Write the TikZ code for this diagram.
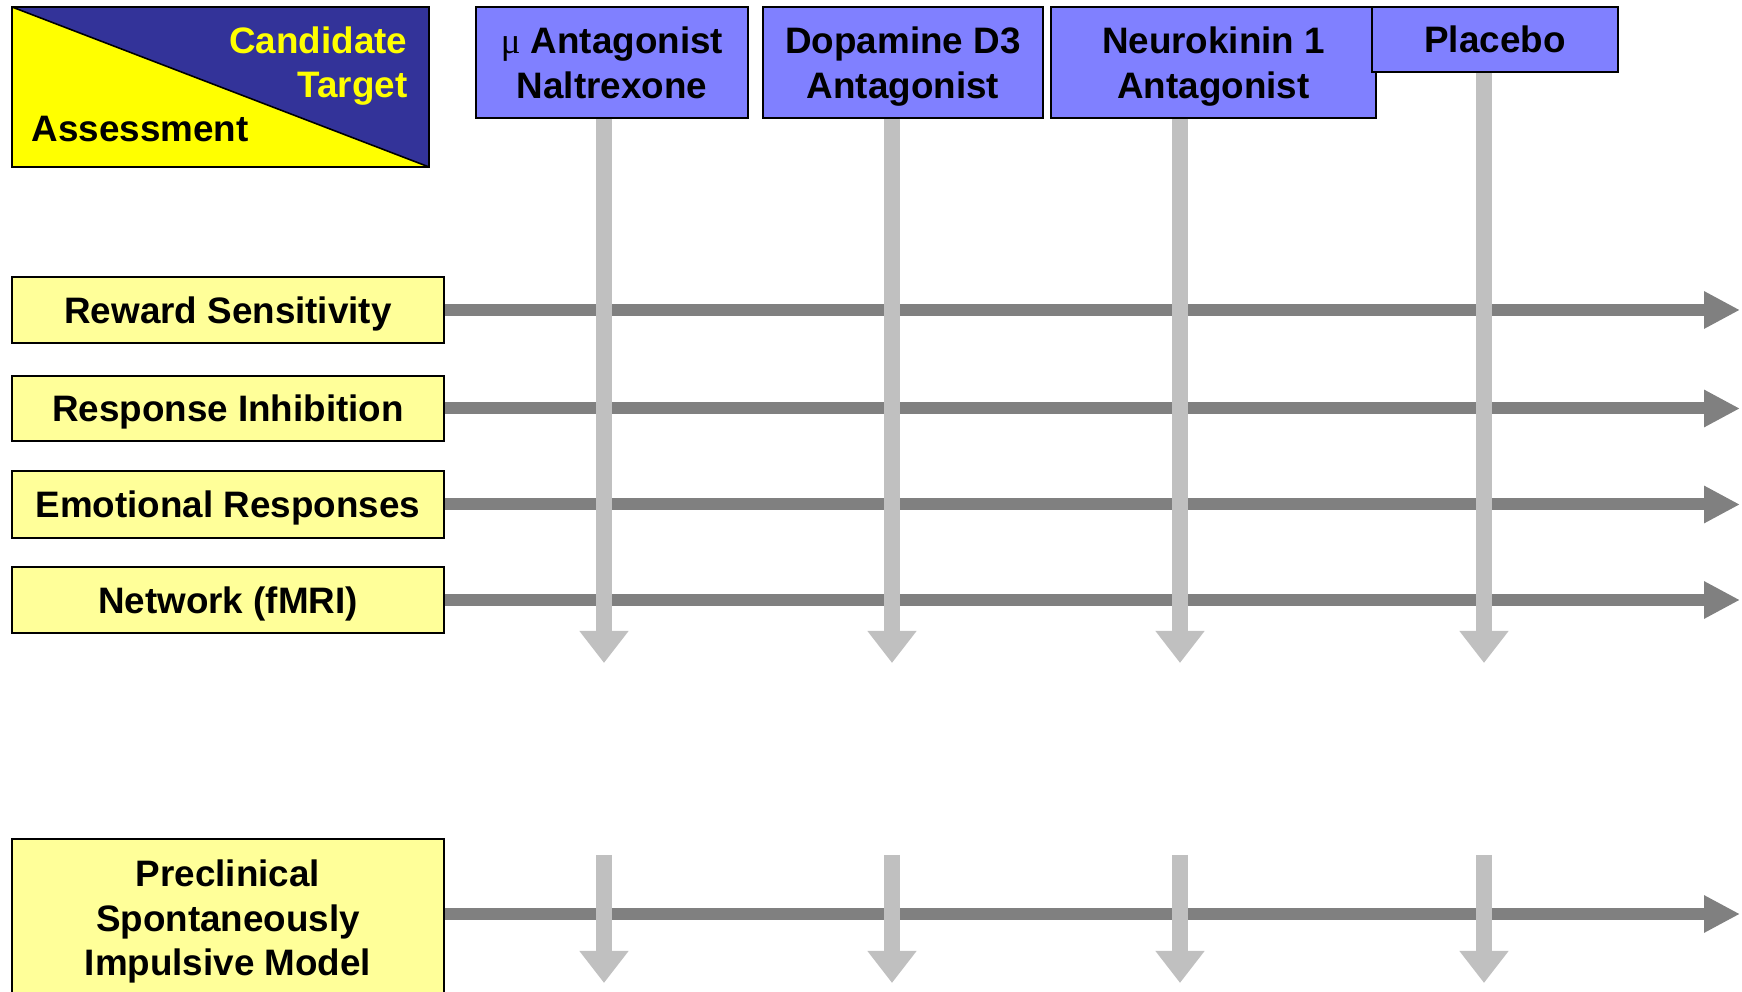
\documentclass[tikz,border=0pt]{standalone}
\usepackage{fontspec}
\setmainfont{Liberation Sans}
\newfontfamily\greekfont{Liberation Serif}
\usetikzlibrary{arrows.meta}
\definecolor{hdrblue}{HTML}{333399}
\definecolor{hdryellow}{HTML}{FFFF00}
\definecolor{drugblue}{HTML}{8080FF}
\definecolor{lblyellow}{HTML}{FFFF99}
\definecolor{bargray}{HTML}{808080}
\definecolor{shaftgray}{HTML}{C0C0C0}
\begin{document}
\begin{tikzpicture}[x=0.01cm,y=-0.01cm,
    every node/.style={font=\fontsize{10.47}{12.63}\selectfont\bfseries, inner sep=0pt, text depth=0pt},
    assess/.style={shape=rectangle,draw=black,line width=0.45pt,fill=lblyellow,minimum width=4.32cm,align=center},
    drug/.style={shape=rectangle,draw=black,line width=0.45pt,fill=drugblue,align=center},
    bar/.style={draw=bargray,line width=3.41pt,-{Triangle[length=10.24pt,width=9.96pt]}},
    shaft/.style={draw=shaftgray,line width=4.55pt,-{Triangle[length=9.1pt,width=13.37pt]}}]
    \useasboundingbox (0,0) rectangle (1742,992);
    % header box
    \fill[hdryellow] (12,7) -- (12,167) -- (429,167) -- cycle;
    \fill[hdrblue] (12,7) -- (429,7) -- (429,167) -- cycle;
    \draw[line width=0.45pt] (12,7) rectangle (429,167);
    \draw[line width=0.45pt] (12,7) -- (429,167);
    \node[anchor=east,align=right,text=hdryellow] (cand) at (408,62) {Candidate\\Target};
    \node[anchor=west] (asmt) at (31,129) {Assessment};
    % candidate targets
    \node[drug,minimum width=2.72cm,minimum height=1.11cm] (nal) at (612,62.5) {{\greekfont\mdseries μ} Antagonist\\Naltrexone};
    \node[drug,minimum width=2.80cm,minimum height=1.11cm] (dop) at (903,62.5) {Dopamine D3\\Antagonist};
    \node[drug,minimum width=3.25cm,minimum height=1.11cm] (nk) at (1213.5,62.5) {Neurokinin 1\\Antagonist};
    \node[drug,minimum width=2.46cm,minimum height=0.65cm] (plc) at (1495,39.5) {Placebo};
    % assessments
    \node[assess,minimum height=0.66cm] (rew) at (228,310) {Reward Sensitivity};
    \node[assess,minimum height=0.65cm] (inh) at (228,408.5) {Response Inhibition};
    \node[assess,minimum height=0.67cm] (emo) at (228,504.5) {Emotional Responses};
    \node[assess,minimum height=0.66cm] (net) at (228,600) {Network (fMRI)};
    \node[assess,minimum height=1.58cm] (pre) at (228,918) {Preclinical\\Spontaneously\\Impulsive Model};
    % arrow ends
    \coordinate (e) at (1740,0);
    \coordinate (t1) at (604,663);
    \coordinate (t2) at (892,663);
    \coordinate (t3) at (1180,663);
    \coordinate (t4) at (1484,663);
    \coordinate (s1) at (604,855);
    \coordinate (s2) at (892,855);
    \coordinate (s3) at (1180,855);
    \coordinate (s4) at (1484,855);
    \coordinate (u1) at (604,983);
    \coordinate (u2) at (892,983);
    \coordinate (u3) at (1180,983);
    \coordinate (u4) at (1484,983);
    \draw[bar] (rew.east) -- (rew.east -| e);
    \draw[bar] (inh.east) -- (inh.east -| e);
    \draw[bar] (emo.east) -- (emo.east -| e);
    \draw[bar] (net.east) -- (net.east -| e);
    \draw[bar] (pre.east) ++(0,-4) -- (1740,914);
    \draw[shaft] (t1 |- nal.south) -- (t1);
    \draw[shaft] (t2 |- dop.south) -- (t2);
    \draw[shaft] (t3 |- nk.south) -- (t3);
    \draw[shaft] (t4 |- plc.south) -- (t4);
    \draw[shaft] (s1) -- (u1);
    \draw[shaft] (s2) -- (u2);
    \draw[shaft] (s3) -- (u3);
    \draw[shaft] (s4) -- (u4);
\end{tikzpicture}
\end{document}
